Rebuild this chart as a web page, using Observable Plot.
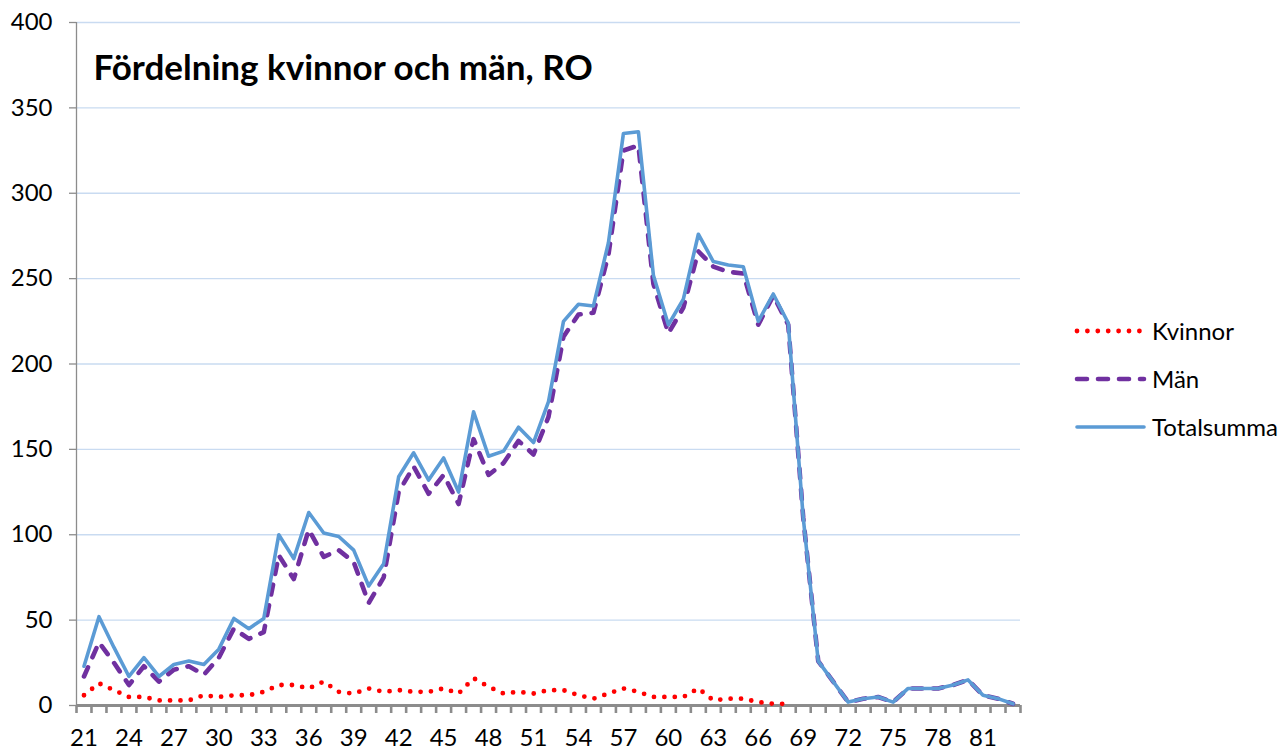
<!DOCTYPE html>
<html>
<head>
<meta charset="utf-8">
<script src="https://cdn.jsdelivr.net/npm/d3@7"></script>
<script src="https://cdn.jsdelivr.net/npm/@observablehq/plot@0.6"></script>
<style>
  html, body { margin: 0; padding: 0; background: #ffffff; }
  #wrap { position: relative; width: 1288px; height: 749px; font-family: Lato, "Open Sans", sans-serif; }
  #legend { position: absolute; left: 0; top: 0; pointer-events: none; }
</style>
</head>
<body>
<div id="wrap"></div>
<script>
// ---- Data ----
const ages = [21,22,23,24,25,26,27,28,29,30,31,32,33,34,35,36,37,38,39,40,
              41,42,43,44,45,46,47,48,49,50,51,52,53,54,55,56,57,58,59,60,
              61,62,63,64,65,66,67,68,69,70,71,72,73,74,75,76,77,78,79,80,
              81,82,83];

// Kvinnor: values for ages 21..68 (no values drawn after 68)
const kvinnor = [6,13,9,5,5,3,3,3,6,5,6,6,8,12,12,10,14,8,7,10,
                 8,9,8,8,10,7,16,11,7,8,7,9,9,6,4,7,10,8,5,5,
                 5,10,3,4,4,2,1,1];

// Män: ages 21..83
const man = [17,37,25,12,23,14,21,23,18,28,45,39,43,88,74,103,87,91,84,60,
             75,125,140,124,135,118,156,135,142,155,147,169,216,229,230,264,325,328,247,218,
             233,266,257,254,253,223,240,223,110,26,14,2,4,5,2,10,10,10,12,15,
             6,4,1];

// Totalsumma: ages 21..83
const total = [23,52,34,17,28,17,24,26,24,33,51,45,51,100,86,113,101,99,91,70,
               83,134,148,132,145,125,172,146,149,163,154,178,225,235,234,271,335,336,252,223,
               238,276,260,258,257,225,241,224,110,26,14,2,4,5,2,10,10,10,12,15,
               6,4,1];

const yTicks = [0,50,100,150,200,250,300,350,400];
const xLabelTicks = [21,24,27,30,33,36,39,42,45,48,51,54,57,60,63,66,69,72,75,78,81];
const seriesNames = ["Kvinnor", "Män", "Totalsumma"];
const titleText = "Fördelning kvinnor och män, RO";

// ---- Tables built from the arrays ----
const kvData = kvinnor.map((v, i) => ({age: ages[i], value: v}));
const manData = man.map((v, i) => ({age: ages[i], value: v}));
const totData = total.map((v, i) => ({age: ages[i], value: v}));
// category boundaries (Excel category axis tick marks sit between categories)
const boundaries = [ages[0] - 0.5, ...ages.map(a => a + 0.5)];

const colors = {Kvinnor: "#ff0000", "Män": "#7030a0", Totalsumma: "#5b9bd5"};
const axisGray = "#8c8c8c";
const gridColor = "#c9dbf1";

const chart = Plot.plot({
  width: 1288,
  height: 749,
  marginLeft: 76,
  marginRight: 268,
  marginTop: 22,
  marginBottom: 44,
  style: {fontFamily: "Lato, 'Open Sans', sans-serif", color: "#000000", background: "#ffffff", overflow: "visible"},
  x: {domain: [boundaries[0], boundaries[boundaries.length - 1]], axis: null},
  y: {domain: [0, 400], axis: null},
  marks: [
    Plot.ruleY(yTicks.filter(d => d > 0), {stroke: gridColor, strokeWidth: 1.3}),
    Plot.ruleX([boundaries[0]], {stroke: axisGray, strokeWidth: 1.3}),
    Plot.axisY({ticks: yTicks, tickSize: 7, tickPadding: 17, stroke: axisGray, strokeWidth: 1.3, fontSize: 24, tickFormat: d => String(d), label: null}),
    Plot.axisX({ticks: boundaries, tickSize: 8, tickPadding: 0, stroke: axisGray, strokeWidth: 2.6, tickFormat: () => "", label: null}),
    Plot.axisX({ticks: xLabelTicks, tickSize: 0, tickPadding: 23, fontSize: 24, tickFormat: d => String(d), label: null}),
    Plot.ruleY([0], {stroke: axisGray, strokeWidth: 3.2}),
    Plot.line(kvData, {x: "age", y: "value", stroke: colors.Kvinnor, strokeWidth: 4.8, strokeDasharray: "0 10.4", strokeLinecap: "round", strokeLinejoin: "round"}),
    Plot.line(manData, {x: "age", y: "value", stroke: colors["Män"], strokeWidth: 4.6, strokeDasharray: "10 11", strokeLinecap: "round", strokeLinejoin: "round"}),
    Plot.line(totData, {x: "age", y: "value", stroke: colors.Totalsumma, strokeWidth: 3.6, strokeLinejoin: "round", strokeLinecap: "round"}),
    Plot.text([titleText], {frameAnchor: "top-left", textAnchor: "start", lineAnchor: "bottom", dx: 17, dy: 57, fontSize: 35, fontWeight: "bold", fill: "#000000"})
  ]
});

const wrap = document.getElementById("wrap");
wrap.appendChild(chart);

// ---- Legend (to the right of the plot) ----
const legend = d3.select(wrap).append("svg")
  .attr("id", "legend")
  .attr("width", 1288)
  .attr("height", 749);
const legY = [331, 379, 427];
const dashes = {Kvinnor: "0 10.4", "Män": "10 11", Totalsumma: null};
const widths = {Kvinnor: 4.8, "Män": 4.6, Totalsumma: 3.6};
seriesNames.forEach((name, i) => {
  const g = legend.append("g");
  g.append("line")
    .attr("x1", 1077).attr("x2", 1144)
    .attr("y1", legY[i]).attr("y2", legY[i])
    .attr("stroke", colors[name])
    .attr("stroke-width", widths[name])
    .attr("stroke-linecap", "round")
    .attr("stroke-dasharray", dashes[name]);
  g.append("text")
    .attr("x", 1152).attr("y", legY[i])
    .attr("dy", "0.36em")
    .attr("font-family", "Lato, 'Open Sans', sans-serif")
    .attr("font-size", 24)
    .attr("fill", "#000000")
    .text(name);
});
</script>
</body>
</html>
